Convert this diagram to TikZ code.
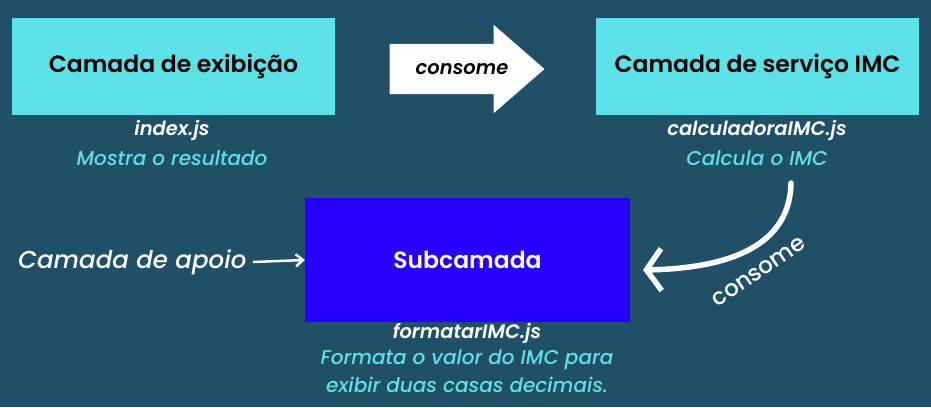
\documentclass[tikz,border=0pt]{standalone}
\usepackage{fontspec}
\setmainfont{Poppins}[UprightFont={Poppins Medium},BoldFont={Poppins SemiBold},ItalicFont={Poppins Medium Italic},BoldItalicFont={Poppins SemiBold Italic}]
\usetikzlibrary{arrows.meta,shapes.arrows}
\definecolor{bg}{HTML}{1F5068}
\definecolor{cyanbox}{HTML}{5CE1E6}
\definecolor{cyantxt}{HTML}{5CE1E6}
\definecolor{bluebox}{HTML}{2500FF}
\begin{document}
\begin{tikzpicture}[x=1pt,y=-1pt,
  layerbox/.style={fill=cyanbox,draw=none,minimum width=323pt,minimum height=97pt,inner sep=0pt,font=\fontsize{23.5}{26}\selectfont\bfseries,text=black},
  subbox/.style={fill=bluebox,draw=none,minimum width=325pt,minimum height=124pt,inner sep=0pt,font=\fontsize{23.5}{26}\selectfont\bfseries,text=white},
  fname/.style={text=white,font=\fontsize{19.5}{22}\selectfont\bfseries\itshape,inner sep=0pt},
  desc/.style={text=cyantxt,font=\fontsize{20}{23}\selectfont\itshape,inner sep=0pt,align=center},
]
\fill[bg] (0,0) rectangle (931,407);
\useasboundingbox (0,0) rectangle (931,407);
\node[layerbox] (exib) at (173.5,66.5) {Camada de exibição};
\node[layerbox] (serv) at (757.5,66.5) {Camada de serviço IMC};
\node[fname] (ij) at (172,130) {index.js};
\node[desc] (mr) at (172,158) {Mostra o resultado};
\node[fname] (cj) at (757,130) {calculadoraIMC.js};
\node[desc] (ci) at (757,158) {Calcula o IMC};
\node[single arrow,fill=white,draw=none,minimum height=155pt,minimum width=88pt,single arrow head extend=19pt,single arrow tip angle=82,inner sep=0pt,anchor=center] (top) at (452.5,69) {\rule{0pt}{50pt}};
\node[text=black,font=\fontsize{19.5}{22}\selectfont\bfseries\itshape,inner sep=0pt] (toplbl) at (462,69) {consome};
\node[subbox] (sub) at (467.5,260) {Subcamada};
\node[text=white,font=\fontsize{24.5}{27}\selectfont\itshape,inner sep=0pt,anchor=west] (apoio) at (18,262) {Camada de apoio};
\coordinate (a0) at (253,262);
\draw[white,line width=2.5pt,-{Straight Barb[length=7pt,width=12pt]}] (a0) -- (sub.west);
\node[fname] (fj) at (467,333) {formatarIMC.js};
\node[desc] (fv) at (467,360) {Formata o valor do IMC para};
\node[desc] (ed) at (467,385) {exibir duas casas decimais.};
\coordinate (cs) at (791,183);
\coordinate (ce) at (643,270);
\draw[white,line width=5.5pt,line cap=round,-{Straight Barb[length=15pt,width=42pt,line width=5.5pt]}] (cs) .. controls (790,240) and (740,268) .. (ce);
\node[text=white,font=\fontsize{23}{26}\selectfont,rotate=34,inner sep=0pt] (cons) at (759,272) {consome};
\end{tikzpicture}
\end{document}
